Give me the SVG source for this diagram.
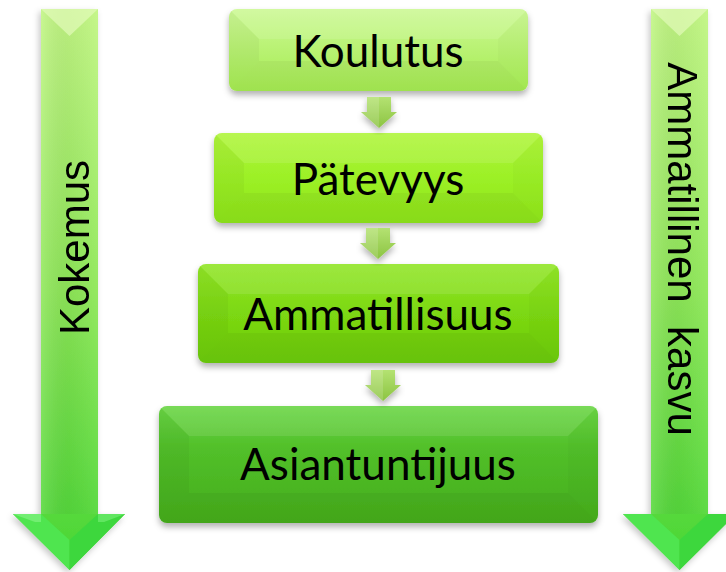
<svg xmlns="http://www.w3.org/2000/svg" xmlns:xlink="http://www.w3.org/1999/xlink" width="726" height="572" viewBox="0 0 726 572">
<style>
.lbl{font-family:Lato,"Open Sans","Noto Sans",sans-serif;font-size:44px;fill:#000;text-anchor:middle}
.vlbl{font-family:"Liberation Sans",Arial,sans-serif;font-size:42px;fill:#000;text-anchor:middle;white-space:pre}
.bl{fill:#000;opacity:0.035}
.br{fill:#000;opacity:0.02}
.bt{fill:#fff;opacity:0.1}
.bb{fill:#000;opacity:0.04}
</style>
<defs>
<filter id="sh" x="-10%" y="-10%" width="120%" height="130%">
<feDropShadow dx="0" dy="4" stdDeviation="3" flood-color="#000" flood-opacity="0.3"/>
</filter>
<filter id="sh2" x="-20%" y="-5%" width="140%" height="110%">
<feDropShadow dx="-2" dy="3" stdDeviation="3" flood-color="#000" flood-opacity="0.22"/>
</filter>
<linearGradient id="g1" x1="0" y1="0" x2="0" y2="1"><stop offset="0" stop-color="#cdf996"/><stop offset="0.5" stop-color="#b8f272"/><stop offset="1" stop-color="#a6ec52"/></linearGradient>
<linearGradient id="g2" x1="0" y1="0" x2="0" y2="1"><stop offset="0" stop-color="#b0f53c"/><stop offset="0.5" stop-color="#9cf026"/><stop offset="1" stop-color="#8ee41a"/></linearGradient>
<linearGradient id="g3" x1="0" y1="0" x2="0" y2="1"><stop offset="0" stop-color="#92e628"/><stop offset="0.5" stop-color="#7cd812"/><stop offset="1" stop-color="#6ccb0c"/></linearGradient>
<linearGradient id="g4" x1="0" y1="0" x2="0" y2="1"><stop offset="0" stop-color="#6ad645"/><stop offset="0.35" stop-color="#52c02a"/><stop offset="1" stop-color="#45ad1c"/></linearGradient>
<linearGradient id="gs" x1="0" y1="0" x2="0" y2="1"><stop offset="0" stop-color="#c2f684"/><stop offset="0.5" stop-color="#8fe859"/><stop offset="1" stop-color="#47d534"/></linearGradient>
<linearGradient id="gsl" x1="0" y1="0" x2="1" y2="0"><stop offset="0" stop-color="#fff" stop-opacity="0.12"/><stop offset="0.5" stop-color="#000" stop-opacity="0.04"/><stop offset="1" stop-color="#fff" stop-opacity="0.05"/></linearGradient>
<linearGradient id="ga" x1="0" y1="0" x2="0" y2="1"><stop offset="0" stop-color="#b4e272"/><stop offset="1" stop-color="#8cc442"/></linearGradient>
<path id="smallArrow" d="M-12,0 H12 V15 H18 L0,31 L-18,15 H-12 Z"/>
<path id="bigArrowL" d="M41,9 H98 V514 H125 L69.5,570 L13,514 H41 Z"/>
<path id="bigArrowR" d="M651,9 H708 V514 H736 L679.5,570 L623,514 H651 Z"/>
</defs>

<g id="arrow-kokemus" filter="url(#sh2)">
<use xlink:href="#bigArrowL" fill="url(#gs)"/>
<rect x="41" y="9" width="57" height="505" fill="url(#gsl)"/>
<polygon points="41,9 98,9 69.5,36" fill="#e2fbbb" opacity="0.7"/>
<polygon points="13,514 41,514 69.5,540 69.5,570" fill="#4fe54f"/>
<polygon points="125,514 98,514 69.5,540 69.5,570" fill="#3ed73e"/>
<polygon points="13,514 41,514 41,522 35,522" fill="#7af07a" opacity="0.8"/>
<polygon points="125,514 98,514 98,522 104,522" fill="#6aea6a" opacity="0.8"/>
<text class="vlbl" transform="translate(89,247.5) rotate(-90)">Kokemus</text>
</g>

<g id="arrow-kasvu" filter="url(#sh2)">
<use xlink:href="#bigArrowR" fill="url(#gs)"/>
<rect x="651" y="9" width="57" height="505" fill="url(#gsl)"/>
<polygon points="651,9 708,9 679.5,36" fill="#e2fbbb" opacity="0.7"/>
<polygon points="623,514 651,514 679.5,540 679.5,570" fill="#4fe54f"/>
<polygon points="736,514 708,514 679.5,540 679.5,570" fill="#3ed73e"/>
<text class="vlbl" transform="translate(668,249) rotate(90)">Ammatillinen  kasvu</text>
</g>

<g id="koulutus">
<clipPath id="c1"><rect x="229" y="9" width="299" height="82" rx="8"/></clipPath>
<rect x="229" y="9" width="299" height="82" rx="8" fill="url(#g1)" filter="url(#sh)"/>
<g clip-path="url(#c1)">
<polygon class="bt" points="229,9 528,9 498,39 259,39"/>
<polygon class="bl" points="229,9 259,39 259,61 229,91"/>
<polygon class="br" points="528,9 498,39 498,61 528,91"/>
<polygon class="bb" points="229,91 259,61 498,61 528,91"/>
</g>
<text class="lbl" x="378" y="67">Koulutus</text>
</g>

<g id="patevyys">
<clipPath id="c2"><rect x="214" y="133" width="329" height="90" rx="8"/></clipPath>
<rect x="214" y="133" width="329" height="90" rx="8" fill="url(#g2)" filter="url(#sh)"/>
<g clip-path="url(#c2)">
<polygon class="bt" points="214,133 543,133 513,163 244,163"/>
<polygon class="bl" points="214,133 244,163 244,193 214,223"/>
<polygon class="br" points="543,133 513,163 513,193 543,223"/>
<polygon class="bb" points="214,223 244,193 513,193 543,223"/>
</g>
<text class="lbl" x="378" y="195">Pätevyys</text>
</g>

<g id="ammatillisuus">
<clipPath id="c3"><rect x="198" y="264" width="361" height="99" rx="8"/></clipPath>
<rect x="198" y="264" width="361" height="99" rx="8" fill="url(#g3)" filter="url(#sh)"/>
<g clip-path="url(#c3)">
<polygon class="bt" points="198,264 559,264 529,294 228,294"/>
<polygon class="bl" points="198,264 228,294 228,333 198,363"/>
<polygon class="br" points="559,264 529,294 529,333 559,363"/>
<polygon class="bb" points="198,363 228,333 529,333 559,363"/>
</g>
<text class="lbl" x="378" y="330">Ammatillisuus</text>
</g>

<g id="asiantuntijuus">
<clipPath id="c4"><rect x="159" y="406" width="439" height="117" rx="8"/></clipPath>
<rect x="159" y="406" width="439" height="117" rx="8" fill="url(#g4)" filter="url(#sh)"/>
<g clip-path="url(#c4)">
<polygon class="bt" points="159,406 598,406 568,436 189,436"/>
<polygon class="bl" points="159,406 189,436 189,493 159,523"/>
<polygon class="br" points="598,406 568,436 568,493 598,523"/>
<polygon class="bb" points="159,523 189,493 568,493 598,523"/>
</g>
<text class="lbl" x="378" y="480">Asiantuntijuus</text>
</g>

<g id="connectors">
<g transform="translate(379,97)">
<use xlink:href="#smallArrow" fill="url(#ga)" filter="url(#sh)"/>
<polygon points="-12,0 0,0 0,31 -18,15 -12,15" fill="#fff" opacity="0.15"/>
</g>
<g transform="translate(378,228)">
<use xlink:href="#smallArrow" fill="url(#ga)" filter="url(#sh)"/>
<polygon points="-12,0 0,0 0,31 -18,15 -12,15" fill="#fff" opacity="0.15"/>
</g>
<g transform="translate(383,370)">
<use xlink:href="#smallArrow" fill="url(#ga)" filter="url(#sh)"/>
<polygon points="-12,0 0,0 0,31 -18,15 -12,15" fill="#fff" opacity="0.15"/>
</g>
</g>
</svg>
